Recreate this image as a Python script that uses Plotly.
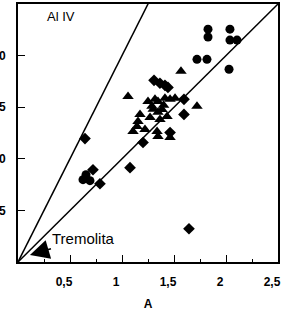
import plotly.graph_objects as go

# ---- data ----
circle_x = [1.827, 1.827, 2.038, 2.038, 2.106, 1.721, 1.817, 2.029, 0.625, 0.692, 0.654]
circle_y = [1.128, 1.090, 1.128, 1.075, 1.075, 0.982, 0.982, 0.934, 0.399, 0.394, 0.423]

triangle_x = [1.567, 1.058, 1.721, 1.25, 1.317, 1.346, 1.413, 1.462, 1.51, 1.288, 1.385,
              1.433, 1.346, 1.173, 1.154, 1.144, 1.106, 1.221, 1.337, 1.346, 1.462,
              1.365, 1.27, 1.40, 1.30]
triangle_y = [0.924, 0.802, 0.754, 0.778, 0.788, 0.778, 0.793, 0.788, 0.793, 0.754, 0.739,
              0.705, 0.725, 0.715, 0.681, 0.657, 0.632, 0.642, 0.632, 0.608, 0.603,
              0.690, 0.700, 0.760, 0.740]

diamond_x = [1.308, 1.365, 1.413, 1.442, 1.596, 1.596, 1.462, 1.202, 1.077, 0.644,
             0.721, 0.788, 1.644]
diamond_y = [0.880, 0.866, 0.856, 0.846, 0.788, 0.715, 0.627, 0.579, 0.457, 0.598,
             0.447, 0.379, 0.161]

tremolita_x = [0.115]
tremolita_y = [0.034]

ref_x = [0, 2.5]
ref_y_1to1 = [0, 2.5]
ref_y_half = [0, 1.25]

x_tickvals = [0.5, 1, 1.5, 2, 2.5]
x_ticktext = ["0,5", "1", "1,5", "2", "2,5"]
y_tickvals = [0.25, 0.5, 0.75, 1.0]
y_ticktext = ["0,25", "0,50", "0,75", "1,00"]

FONT = "Liberation Sans, Arial, sans-serif"

fig = go.Figure()
fig.add_trace(go.Scatter(x=ref_x, y=ref_y_1to1, mode="lines",
                         line=dict(color="black", width=1.5)))
fig.add_trace(go.Scatter(x=ref_x, y=ref_y_half, mode="lines",
                         line=dict(color="black", width=1.5)))
fig.add_trace(go.Scatter(x=circle_x, y=circle_y, mode="markers",
                         marker=dict(symbol="circle", size=9, color="black")))
fig.add_trace(go.Scatter(x=triangle_x, y=triangle_y, mode="markers",
                         marker=dict(symbol="triangle-up", size=10, color="black")))
fig.add_trace(go.Scatter(x=diamond_x, y=diamond_y, mode="markers",
                         marker=dict(symbol="diamond", size=9, color="black")))

fig.add_annotation(x=tremolita_x[0], y=tremolita_y[0], xref="x", yref="y",
                   text="Tremolita", showarrow=True, ax=54, ay=-16,
                   arrowhead=2, arrowsize=2.4, arrowwidth=1.6, arrowcolor="black",
                   font=dict(family=FONT, size=15, color="black"))
fig.add_annotation(x=0.41, y=1.19, xref="x", yref="y", text="Al IV", showarrow=False,
                   font=dict(family=FONT, size=13, color="black"))

fig.update_layout(
    width=285, height=312,
    margin=dict(l=18, r=7, t=4, b=50),
    paper_bgcolor="white", plot_bgcolor="white",
    showlegend=False,
    font=dict(family=FONT, color="black"),
)
fig.update_xaxes(range=[0, 2.5], tickvals=x_tickvals, ticktext=x_ticktext,
                 ticks="inside", ticklen=7, tickwidth=1.2, tickcolor="black",
                 minor=dict(dtick=0.25, tick0=0, ticks="inside", ticklen=3, tickcolor="black"),
                 showline=True, linecolor="black", linewidth=2, mirror=True,
                 showgrid=False, zeroline=False, automargin=False,
                 tickfont=dict(family=FONT, size=12, color="black", weight="bold"),
                 ticklabelstandoff=8, ticklabelshift=-6,
                 title=dict(text="A", standoff=11,
                            font=dict(family=FONT, size=12, color="black", weight="bold")))
fig.update_yaxes(range=[0, 1.25], tickvals=y_tickvals, ticktext=y_ticktext,
                 ticks="inside", ticklen=7, tickwidth=1.2, tickcolor="black",
                 showline=True, linecolor="black", linewidth=2, mirror=True,
                 showgrid=False, zeroline=False, automargin=False,
                 tickfont=dict(family=FONT, size=12, color="black", weight="bold"),
                 ticklabelstandoff=8)

fig.write_html("out.html", config={"displayModeBar": False},
               post_script="document.body.style.margin='0';document.body.style.overflow='hidden';")
